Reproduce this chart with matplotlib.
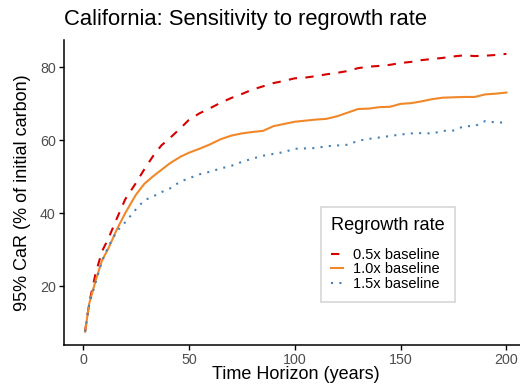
import matplotlib
matplotlib.use("Agg")
import matplotlib.pyplot as plt

plt.rcParams['font.family'] = ['Liberation Sans', 'DejaVu Sans']

years = [1, 3, 6, 9, 12, 16, 20, 25, 29, 33, 37, 41, 46, 50, 55, 60, 65, 70, 75, 80,
         85, 90, 95, 100, 105, 110, 115, 120, 125, 130, 135, 140, 145, 150, 155, 160,
         165, 170, 175, 180, 185, 190, 195, 200]

car_05 = [7.5, 15.5, 23.5, 29.5, 33.0, 38.5, 43.8, 48.2, 52.0, 55.5, 58.5, 60.5, 63.2,
          65.5, 67.3, 68.7, 70.2, 71.5, 72.6, 73.8, 74.7, 75.6, 76.2, 76.9, 77.1, 77.5,
          78.0, 78.4, 78.9, 79.7, 80.1, 80.3, 80.6, 81.1, 81.4, 81.9, 82.2, 82.5, 82.9,
          83.2, 83.0, 83.1, 83.3, 83.6]

car_10 = [7.5, 15.3, 21.5, 27.0, 30.3, 35.5, 40.0, 45.0, 48.0, 50.0, 51.8, 53.6, 55.4,
          56.5, 57.6, 58.8, 60.2, 61.2, 61.8, 62.2, 62.5, 63.8, 64.4, 65.0, 65.3, 65.6,
          65.8, 66.5, 67.5, 68.5, 68.6, 69.0, 69.1, 69.9, 70.1, 70.6, 71.2, 71.6, 71.7,
          71.8, 71.8, 72.5, 72.7, 73.0]

car_15 = [7.5, 15.2, 21.0, 26.8, 30.8, 35.0, 37.5, 41.0, 43.5, 44.5, 45.7, 46.7, 48.6,
          49.5, 50.6, 51.3, 52.2, 52.9, 54.0, 54.9, 55.7, 56.2, 56.7, 57.6, 57.7, 57.8,
          58.3, 58.5, 58.7, 59.8, 60.3, 60.7, 61.1, 61.5, 61.8, 61.9, 61.8, 62.5, 62.6,
          63.8, 63.8, 65.2, 64.8, 64.8]

labels = ["0.5x baseline", "1.0x baseline", "1.5x baseline"]
colors = ["#D60000", "#F0882A", "#4682B4"]

W, H = 520, 392
fig = plt.figure(figsize=(W / 100, H / 100), dpi=100)
ax = fig.add_axes([64 / W, 1 - 345 / H, 463.5 / W, (345 - 40) / H])

lw = 1.5
ax.plot(years, car_05, color=colors[0], lw=lw, dashes=(4, 4), label=labels[0])
ax.plot(years, car_10, color=colors[1], lw=lw, label=labels[1])
ax.plot(years, car_15, color=colors[2], lw=lw, dashes=(1, 3), label=labels[2])

ax.set_xlim(-8.95, 209.95)
ax.set_ylim(3.84, 87.4)
ax.set_xticks([0, 50, 100, 150, 200])
ax.set_yticks([20, 40, 60, 80])
for s in ['top', 'right']:
    ax.spines[s].set_visible(False)
for s in ['left', 'bottom']:
    ax.spines[s].set_linewidth(1.1)
ax.tick_params(axis='both', colors='black', labelcolor='#4D4D4D', labelsize=10.3,
               length=3.8, width=1.0, pad=2.2)

ax.set_xlabel("Time Horizon (years)", fontsize=13)
ax.xaxis.set_label_coords(0.5, -(366 - 345) / 305)
ax.set_ylabel("95% CaR (% of initial carbon)", fontsize=13)
ax.yaxis.set_label_coords(-(64 - 31) / 463.5, 0.5)
fig.text(64 / W, 1 - 25 / H, "California: Sensitivity to regrowth rate", fontsize=15.8,
         ha='left', va='baseline')

leg = ax.legend(title="Regrowth rate", loc='upper left',
                bbox_to_anchor=((320.7 - 64) / 463.5, (345 - 207) / 305),
                borderaxespad=0, fontsize=10.5, title_fontsize=13.1, frameon=True,
                fancybox=False, handlelength=0.82, handletextpad=0.68,
                labelspacing=0.05, borderpad=0.72, alignment='left')
leg.get_frame().set_edgecolor('#CCCCCC')
leg.get_frame().set_linewidth(1.2)
leg._legend_box.sep = 9.5

fig.savefig("out.png", dpi=100)
